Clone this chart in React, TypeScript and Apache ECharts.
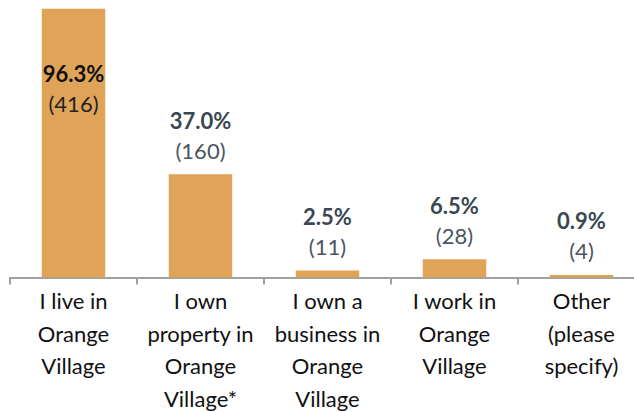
import React, { useEffect, useRef } from "react";
import * as echarts from "echarts";

const categories = [
  "I live in\nOrange\nVillage",
  "I own\nproperty in\nOrange\nVillage*",
  "I own a\nbusiness in\nOrange\nVillage",
  "I work in\nOrange\nVillage",
  "Other\n(please\nspecify)",
];
const percents = [96.3, 37.0, 2.5, 6.5, 0.9];
const counts = [416, 160, 11, 28, 4];

const FONT = "Lato, 'Open Sans', sans-serif";

export default function App() {
  const ref = useRef<HTMLDivElement>(null);
  useEffect(() => {
    if (!ref.current) return;
    const chart = echarts.init(ref.current, null, { renderer: "svg" });
    const data = percents.map((p, i) => {
      const first = i === 0;
      return {
        value: p,
        label: first
          ? {
              position: "insideTop",
              distance: 50,
              rich: {
                p: { fontSize: 22, fontWeight: "bold", color: "#111111", lineHeight: 30, fontFamily: FONT },
                c: { fontSize: 22, color: "#222222", lineHeight: 30, fontFamily: FONT },
              },
            }
          : undefined,
      };
    });
    chart.setOption({
      animation: false,
      grid: {
        left: 10,
        right: -5,
        top: -1.5,
        bottom: 134.5,
        containLabel: false,
        outerBoundsMode: "none",
      },
      xAxis: {
        type: "category",
        data: categories,
        boundaryGap: true,
        axisLine: { lineStyle: { color: "#A0A0A0", width: 2 } },
        axisTick: { show: true, length: 7, lineStyle: { color: "#A0A0A0", width: 2 } },
        axisLabel: {
          interval: 0,
          margin: 7,
          fontSize: 22,
          lineHeight: 32.5,
          color: "#111111",
          fontFamily: FONT,
          align: "center",
        },
      },
      yAxis: {
        type: "value",
        min: 0,
        max: 100,
        show: false,
        splitLine: { show: false },
      },
      series: [
        {
          type: "bar",
          data,
          barWidth: "50%",
          itemStyle: { color: "#E0A458" },
          label: {
            show: true,
            position: "top",
            distance: 9,
            formatter: (params: any) =>
              `{p|${percents[params.dataIndex].toFixed(1)}%}\n{c|(${counts[params.dataIndex]})}`,
            rich: {
              p: { fontSize: 22, fontWeight: "bold", color: "#3B4653", lineHeight: 30, fontFamily: FONT },
              c: { fontSize: 22, color: "#4A5561", lineHeight: 30, fontFamily: FONT },
            },
          },
        },
      ],
    });
    return () => chart.dispose();
  }, []);
  return (
    <div
      ref={ref}
      style={{ position: "fixed", left: 0, top: 0, width: 640, height: 412, background: "#ffffff" }}
    />
  );
}
